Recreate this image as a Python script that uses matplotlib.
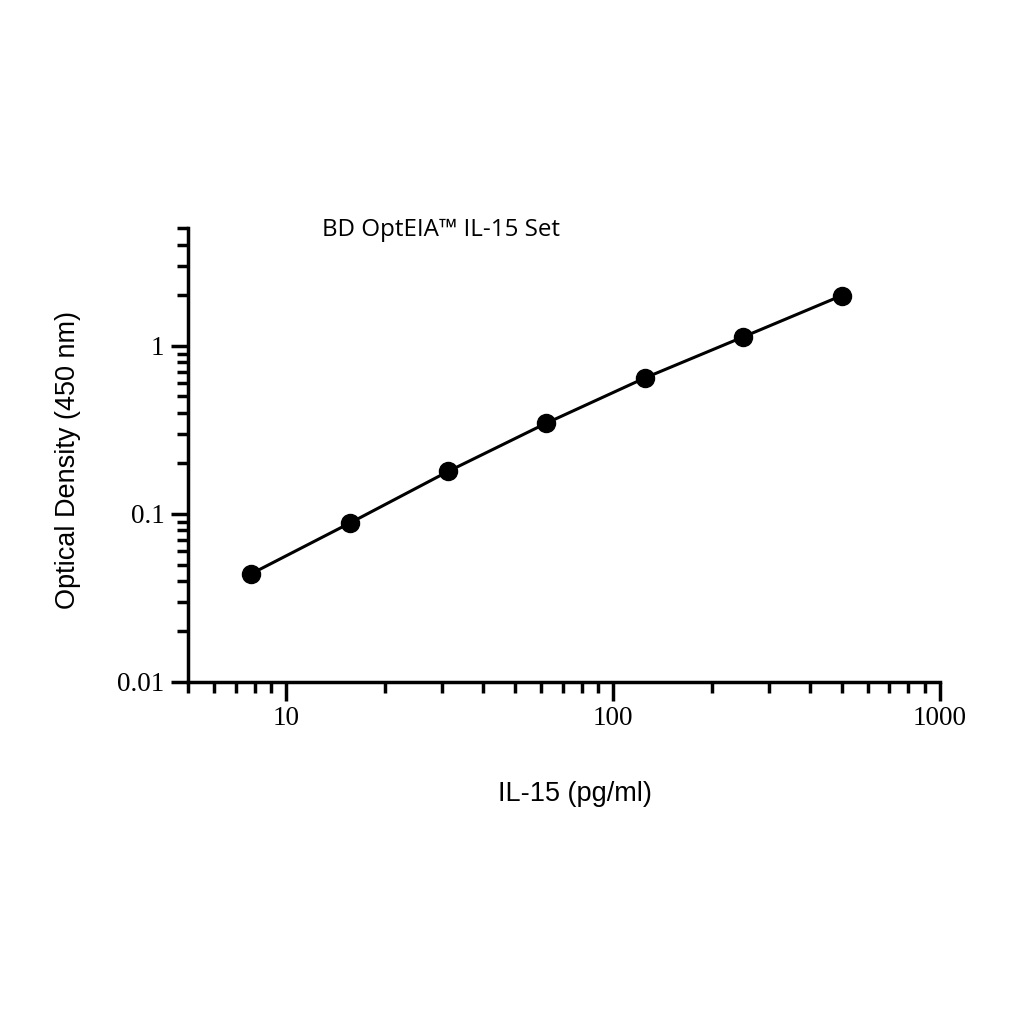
import matplotlib
matplotlib.use('Agg')
import matplotlib.pyplot as plt
from matplotlib.ticker import LogLocator, FixedLocator, FixedFormatter, NullFormatter

# standard curve values
conc = [7.8, 15.6, 31.25, 62.5, 125, 250, 500]
od = [0.044, 0.088, 0.179, 0.347, 0.644, 1.13, 1.99]

x_ticks = [10, 100, 1000]
x_labels = ['10', '100', '1000']
y_ticks = [0.01, 0.1, 1]
y_labels = ['0.01', '0.1', '1']

fig = plt.figure(figsize=(10.24, 10.24), dpi=100)
ax = fig.add_axes([0.1836, 0.334, 0.7344, 0.443])

ax.plot(conc, od, color='black', lw=2.2, marker='o', ms=13,
        markerfacecolor='black', markeredgecolor='black', zorder=3)

ax.set_xscale('log')
ax.set_yscale('log')
ax.set_xlim(5, 1000)
ax.set_ylim(0.01, 5)

for spine in ['top', 'right']:
    ax.spines[spine].set_visible(False)
for spine in ['left', 'bottom']:
    ax.spines[spine].set_linewidth(2.5)

ax.xaxis.set_major_locator(FixedLocator(x_ticks))
ax.xaxis.set_major_formatter(FixedFormatter(x_labels))
ax.yaxis.set_major_locator(FixedLocator(y_ticks))
ax.yaxis.set_major_formatter(FixedFormatter(y_labels))
ax.xaxis.set_minor_locator(LogLocator(base=10, subs=range(2, 10)))
ax.yaxis.set_minor_locator(LogLocator(base=10, subs=range(2, 10)))
ax.xaxis.set_minor_formatter(NullFormatter())
ax.yaxis.set_minor_formatter(NullFormatter())

ax.tick_params(which='major', direction='out', width=2.5, labelsize=19.5)
ax.tick_params(axis='x', which='major', length=13.5, pad=4)
ax.tick_params(axis='y', which='major', length=12, pad=5)
ax.tick_params(which='minor', direction='out', length=8, width=2.5)
for lab in ax.get_xticklabels() + ax.get_yticklabels():
    lab.set_fontfamily('Liberation Serif')

ax.set_xlabel('IL-15 (pg/ml)', fontsize=19.5, family='Liberation Sans', labelpad=36)
ax.set_ylabel('Optical Density (450 nm)', fontsize=19.5, family='Liberation Sans', labelpad=26)
ax.xaxis.label.set_x(0.515)
ax.yaxis.label.set_y(0.489)

fig.text(0.431, 0.775, 'BD OptEIA\u2122 IL-15 Set', fontsize=17.4,
         family=['Open Sans', 'DejaVu Sans'], ha='center', va='center')

plt.savefig('out.png', dpi=100, facecolor='white')
